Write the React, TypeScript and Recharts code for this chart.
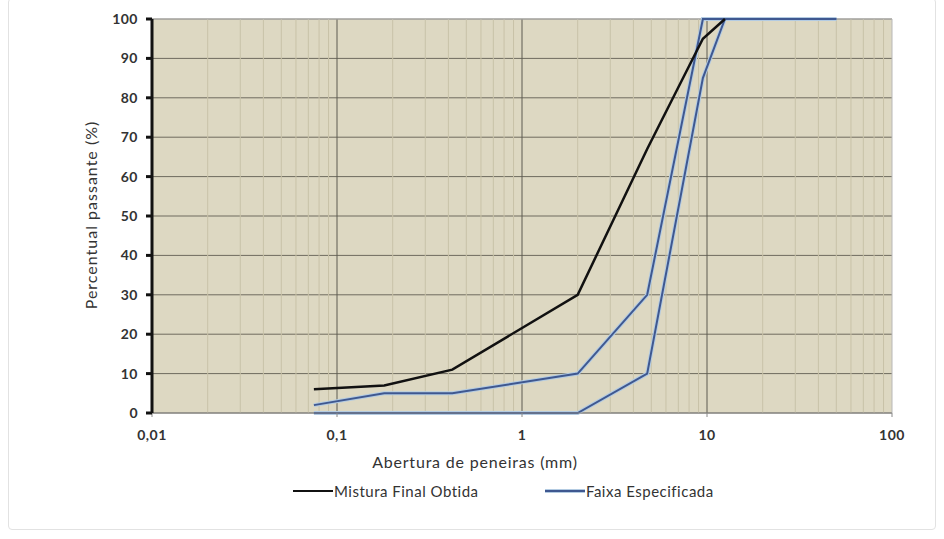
import React from 'react';
import { LineChart, Line, XAxis, YAxis, CartesianGrid, ReferenceLine, Label } from 'recharts';

// sieve openings (mm) and % passing
const sieves = [0.075, 0.18, 0.42, 2.0, 4.75, 9.5, 12.5, 50];
const mistura = [6, 7, 11, 30, 67, 95, 100, null];
const faixaSuperior = [2, 5, 5, 10, 30, 100, 100, 100];
const faixaInferior = [0, 0, 0, 0, 10, 85, 100, 100];

const xTicks = [0.01, 0.1, 1, 10, 100];
const yTicks = [0, 10, 20, 30, 40, 50, 60, 70, 80, 90, 100];
const majorLines = [0.1, 1, 10];
const minorLines = [
  0.02, 0.03, 0.04, 0.05, 0.06, 0.07, 0.08, 0.09,
  0.2, 0.3, 0.4, 0.5, 0.6, 0.7, 0.8, 0.9,
  2, 3, 4, 5, 6, 7, 8, 9,
  20, 30, 40, 50, 60, 70, 80, 90,
];
const legendItems = [
  { name: 'Mistura Final Obtida', color: '#111111', halo: null },
  { name: 'Faixa Especificada', color: '#3f5890', halo: '#b3cbe2' },
];

const data = sieves.map((s, i) => ({
  abertura: s,
  mistura: mistura[i],
  superior: faixaSuperior[i],
  inferior: faixaInferior[i],
}));

const FONT = 'Lato, "Open Sans", sans-serif';

const fmt = (v: number) => String(v).replace('.', ',');

const App = () => {
  return (
    <div style={{ position: 'absolute', left: 0, top: 0, width: 944, height: 539, background: '#fff', fontFamily: FONT }}>
      <div style={{ position: 'absolute', left: 8, top: -2, width: 926, height: 530, border: '1px solid #e2e2e2', borderRadius: 4 }} />
      <LineChart width={944} height={539} data={data} margin={{ top: 19, right: 52, bottom: 96, left: 92 }}>
        <CartesianGrid fill="#ddd8c2" stroke="#6e6b5e" vertical={false} />
        {minorLines.map((v) => (
          <ReferenceLine key={'m' + v} x={v} stroke="#c8c2a8" strokeWidth={1} />
        ))}
        {majorLines.map((v) => (
          <ReferenceLine key={'M' + v} x={v} stroke="#5c5a50" strokeWidth={1} />
        ))}
        <ReferenceLine x={100} stroke="#b8b8b8" strokeWidth={1} />
        <ReferenceLine y={100} stroke="#b8b8b8" strokeWidth={1} />
        <XAxis
          dataKey="abertura"
          type="number"
          scale="log"
          domain={[0.01, 100]}
          ticks={xTicks}
          allowDataOverflow
          tickFormatter={fmt}
          stroke="#8a8a8a"
          tickSize={4}
          height={30}
          tick={{ fill: '#333', fontSize: 14, fontWeight: 700, fontFamily: FONT, dy: 11, letterSpacing: 0.5 }}
        >
          <Label
            content={(props: any) => {
              const vb = props.viewBox;
              return (
                <text x={475} y={vb.y + vb.height + 25} textAnchor="middle" fill="#333" fontSize={16} letterSpacing={0.8} fontFamily={FONT}>
                  Abertura de peneiras (mm)
                </text>
              );
            }}
          />
        </XAxis>
        <YAxis
          type="number"
          domain={[0, 100]}
          ticks={yTicks}
          width={60}
          stroke="#111"
          axisLine={{ stroke: '#111', strokeWidth: 3 }}
          tickLine={{ stroke: '#111', strokeWidth: 3 }}
          tickSize={6}
          tick={{ fill: '#333', fontSize: 14, fontWeight: 700, fontFamily: FONT, dx: -6, letterSpacing: 0.5 }}
        >
          <Label
            content={() => (
              <text x={97} y={215} transform="rotate(-90 97 215)" textAnchor="middle" fill="#333" fontSize={16} letterSpacing={1} fontFamily={FONT}>
                Percentual passante (%)
              </text>
            )}
          />
        </YAxis>
        <Line dataKey="inferior" stroke="#b3cbe2" strokeWidth={4} dot={false} isAnimationActive={false} type="linear" />
        <Line dataKey="superior" stroke="#b3cbe2" strokeWidth={4} dot={false} isAnimationActive={false} type="linear" />
        <Line dataKey="inferior" stroke="#3f5890" strokeWidth={2} dot={false} isAnimationActive={false} type="linear" />
        <Line dataKey="superior" stroke="#3f5890" strokeWidth={2} dot={false} isAnimationActive={false} type="linear" />
        <Line dataKey="mistura" stroke="#111111" strokeWidth={2.5} dot={false} isAnimationActive={false} type="linear" />
      </LineChart>
      {legendItems.map((item, i) => {
        const x0 = i === 0 ? 293 : 545;
        return (
          <div key={item.name} style={{ position: 'absolute', left: x0, top: 482, display: 'flex', alignItems: 'center', fontSize: 15, letterSpacing: 0.5, color: '#333' }}>
            <svg width={40} height={8}>
              {item.halo && <line x1={0} y1={4} x2={40} y2={4} stroke={item.halo} strokeWidth={4} />}
              <line x1={0} y1={4} x2={40} y2={4} stroke={item.color} strokeWidth={2} />
            </svg>
            <span style={{ marginLeft: 1 }}>{item.name}</span>
          </div>
        );
      })}
    </div>
  );
};

export default App;
